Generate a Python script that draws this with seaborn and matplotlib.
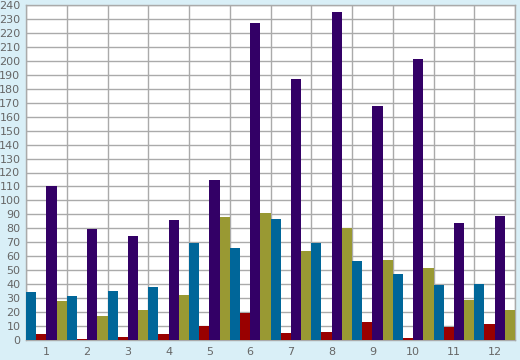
import matplotlib
matplotlib.use("Agg")
import matplotlib.pyplot as plt
import seaborn as sns
import pandas as pd
import numpy as np

categories = [str(i) for i in range(1, 13)]
series_names = ["A", "B", "C", "D"]
blue_vals = [34.5, 31.7, 35.3, 38, 69.7, 66, 86.7, 69.7, 56.8, 47.5, 39.6, 40.3]
red_vals = [4.5, 1, 2.4, 4.5, 10, 19, 5, 6, 13.1, 1.7, 9.5, 11.7]
purple_vals = [110, 79.7, 74.7, 86, 114.8, 227.3, 187.2, 235.2, 167.8, 201.5, 84, 89]
olive_vals = [28, 17.4, 21.7, 32, 88, 91, 64, 80, 57.5, 51.8, 28.9, 21.7]
colors = ["#006699", "#990000", "#330066", "#999933"]
y_ticks = list(range(0, 241, 10))

rows = []
for name, vals in zip(series_names, [blue_vals, red_vals, purple_vals, olive_vals]):
    for c, v in zip(categories, vals):
        rows.append({"cat": c, "series": name, "value": v})
df = pd.DataFrame(rows)

sns.set_style("white")
fig = plt.figure(figsize=(5.2, 3.6), dpi=100, facecolor="#D9EFF7")
ax = fig.add_axes([26 / 520, 20 / 360, 489 / 520, 335 / 360])
ax.set_facecolor("white")

sns.barplot(data=df, x="cat", y="value", hue="series", order=categories,
            hue_order=series_names, palette=colors, width=1.0, dodge=True,
            saturation=1, errorbar=None, legend=False, ax=ax,
            edgecolor="none", linewidth=0, zorder=3)

ax.set_xlim(-0.5, 11.5)
ax.set_ylim(0, 240)
ax.set_yticks(y_ticks)
ax.set_yticklabels([str(t) for t in y_ticks])
ax.set_xticks(range(12))
ax.set_xticklabels(categories)
ax.set_xticks(np.arange(-0.5, 12, 1.0), minor=True)

grid_c = "#AAAAAA"
ax.grid(True, axis="y", which="major", color=grid_c, linewidth=1, zorder=0)
ax.grid(True, axis="x", which="minor", color=grid_c, linewidth=1, zorder=0)
ax.grid(False, axis="x", which="major")
ax.set_axisbelow(True)

ax.tick_params(axis="x", which="major", length=0, pad=5, labelsize=8, labelcolor="#666666")
ax.tick_params(axis="x", which="minor", length=4, color=grid_c, width=1)
ax.tick_params(axis="y", which="major", length=3, color=grid_c, width=1, pad=1,
               labelsize=8, labelcolor="#666666")

for s in ax.spines.values():
    s.set_color(grid_c)
    s.set_linewidth(1)

ax.set_xlabel("")
ax.set_ylabel("")

fig.savefig("out.png", dpi=100, facecolor=fig.get_facecolor())
